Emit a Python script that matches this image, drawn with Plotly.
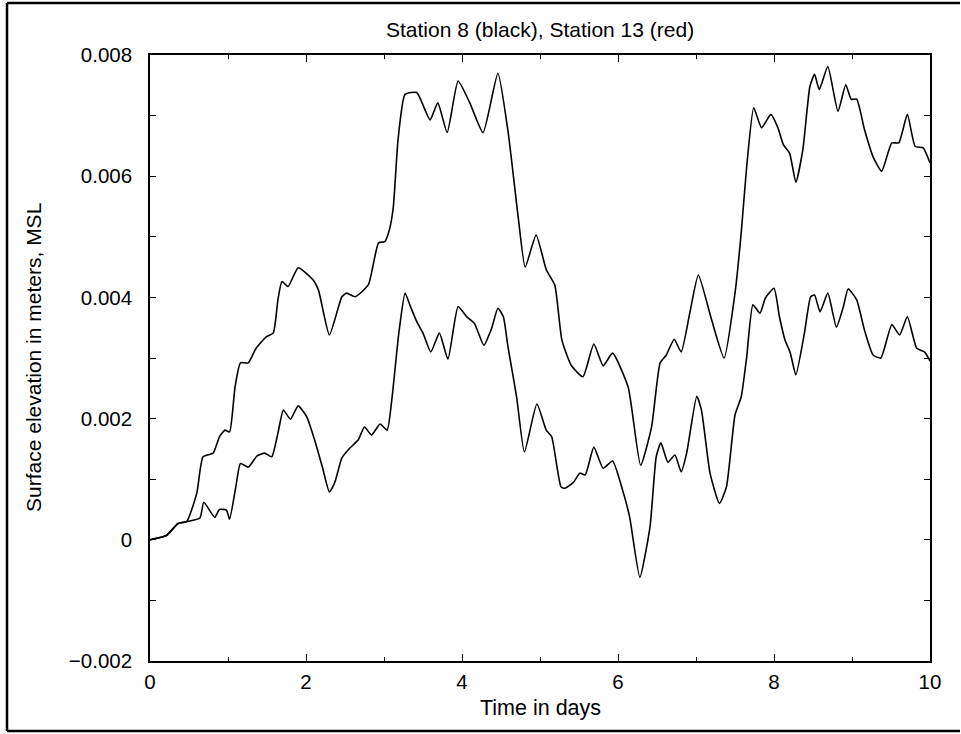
import plotly.graph_objects as go

# Time in days
t_station8 = [0, 0.21, 0.36, 0.47, 0.60, 0.68, 0.81, 0.89, 0.96, 1.02, 1.09, 1.16, 1.26, 1.36, 1.49,
              1.58, 1.64, 1.69, 1.77, 1.90, 2.09, 2.16, 2.30, 2.46, 2.52, 2.63, 2.80, 2.93, 3.01, 3.07,
              3.12, 3.18, 3.27, 3.42, 3.59, 3.69, 3.81, 3.95, 4.10, 4.27, 4.46, 4.59, 4.72, 4.81, 4.95,
              5.08, 5.19, 5.28, 5.40, 5.55, 5.69, 5.81, 5.93, 6.13, 6.29, 6.43, 6.54, 6.62, 6.72, 6.81,
              6.92, 7.03, 7.20, 7.36, 7.50, 7.58, 7.65, 7.74, 7.84, 7.96, 8.05, 8.12, 8.20, 8.28, 8.37,
              8.46, 8.52, 8.58, 8.69, 8.82, 8.92, 8.99, 9.06, 9.16, 9.27, 9.38, 9.51, 9.60, 9.71, 9.81,
              9.91, 10.0]
# Surface elevation (mm) – converted to meters below
elev_station8_mm = [0, 0.07, 0.27, 0.30, 0.77, 1.37, 1.43, 1.70, 1.81, 1.78, 2.52, 2.92, 2.92, 3.16, 3.35,
                    3.41, 3.96, 4.26, 4.18, 4.49, 4.29, 4.12, 3.38, 4.01, 4.07, 4.01, 4.21, 4.90, 4.92, 5.12,
                    5.50, 6.60, 7.35, 7.38, 6.93, 7.21, 6.72, 7.57, 7.21, 6.72, 7.70, 6.74, 5.33, 4.50, 5.03,
                    4.46, 4.20, 3.30, 2.88, 2.69, 3.23, 2.87, 3.08, 2.52, 1.23, 1.86, 2.92, 3.05, 3.31, 3.10,
                    3.74, 4.37, 3.63, 3.00, 4.07, 5.07, 6.16, 7.13, 6.80, 7.02, 6.80, 6.52, 6.38, 5.90, 6.44,
                    7.48, 7.68, 7.43, 7.81, 7.07, 7.51, 7.27, 7.27, 6.77, 6.32, 6.08, 6.55, 6.55, 7.02, 6.49,
                    6.47, 6.22]

t_station13 = [0, 0.21, 0.36, 0.47, 0.64, 0.69, 0.83, 0.89, 0.98, 1.02, 1.10, 1.16, 1.26, 1.37, 1.47,
               1.56, 1.64, 1.71, 1.80, 1.90, 2.01, 2.11, 2.21, 2.30, 2.37, 2.46, 2.56, 2.67, 2.75, 2.84,
               2.95, 3.04, 3.10, 3.19, 3.27, 3.33, 3.42, 3.50, 3.60, 3.71, 3.82, 3.95, 4.06, 4.16, 4.28,
               4.38, 4.46, 4.53, 4.59, 4.70, 4.80, 4.96, 5.08, 5.15, 5.27, 5.32, 5.43, 5.51, 5.58, 5.69,
               5.81, 5.93, 6.07, 6.15, 6.28, 6.41, 6.49, 6.55, 6.64, 6.73, 6.81, 6.88, 7.01, 7.07, 7.18,
               7.30, 7.39, 7.50, 7.58, 7.65, 7.73, 7.82, 7.89, 8.00, 8.07, 8.14, 8.21, 8.28, 8.39, 8.47,
               8.52, 8.59, 8.69, 8.80, 8.89, 8.95, 9.06, 9.16, 9.27, 9.37, 9.51, 9.61, 9.71, 9.83, 9.93,
               10.0]
elev_station13_mm = [0, 0.07, 0.27, 0.30, 0.36, 0.62, 0.37, 0.50, 0.49, 0.34, 0.87, 1.26, 1.20, 1.38, 1.43,
                     1.37, 1.76, 2.14, 1.99, 2.21, 2.03, 1.65, 1.20, 0.79, 0.95, 1.35, 1.51, 1.65, 1.86, 1.73,
                     1.91, 1.81, 2.31, 3.41, 4.07, 3.88, 3.60, 3.41, 3.10, 3.41, 2.98, 3.85, 3.68, 3.57, 3.21,
                     3.49, 3.82, 3.68, 3.18, 2.36, 1.45, 2.24, 1.81, 1.70, 0.87, 0.85, 0.95, 1.10, 1.07, 1.53,
                     1.18, 1.30, 0.77, 0.37, -0.62, 0.21, 1.37, 1.60, 1.28, 1.40, 1.12, 1.43, 2.37, 2.14, 1.10,
                     0.60, 0.87, 2.06, 2.36, 3.02, 3.88, 3.74, 3.99, 4.15, 3.68, 3.30, 3.08, 2.72, 3.41, 4.01,
                     4.04, 3.76, 4.07, 3.51, 3.85, 4.14, 3.96, 3.46, 3.05, 3.00, 3.55, 3.38, 3.68, 3.16, 3.10,
                     2.95]

x_tick_vals = [0, 2, 4, 6, 8, 10]
x_tick_text = ["0", "2", "4", "6", "8", "10"]
y_tick_vals = [-0.002, 0, 0.002, 0.004, 0.006, 0.008]
y_tick_text = ["\u22120.002", "0", "0.002", "0.004", "0.006", "0.008"]

elev_station8 = [v / 1000 for v in elev_station8_mm]
elev_station13 = [v / 1000 for v in elev_station13_mm]

FONT = "Liberation Sans, Arial, Helvetica, sans-serif"

fig = go.Figure()
fig.add_trace(go.Scatter(x=t_station8, y=elev_station8, mode="lines", name="Station 8",
                         line=dict(color="black", width=1.6, shape="spline", smoothing=0.5)))
fig.add_trace(go.Scatter(x=t_station13, y=elev_station13, mode="lines", name="Station 13",
                         line=dict(color="black", width=1.6, shape="spline", smoothing=0.5)))

axis_common = dict(showgrid=False, zeroline=False, showline=True, linecolor="black", linewidth=1.6,
                   mirror="ticks", ticks="inside", tickcolor="black", tickwidth=1.2,
                   tickfont=dict(family=FONT, size=20.5, color="black"))

fig.update_xaxes(range=[0, 10], tickvals=x_tick_vals, ticktext=x_tick_text, ticklen=7,
                 ticklabelstandoff=2,
                 minor=dict(dtick=1, ticks="inside", ticklen=4, tickcolor="black", tickwidth=1.2),
                 **axis_common)
fig.update_yaxes(range=[-0.002, 0.008], tickvals=y_tick_vals, ticktext=y_tick_text, ticklen=6,
                 ticklabelstandoff=12,
                 minor=dict(dtick=0.001, ticks="inside", ticklen=6, tickcolor="black", tickwidth=1.2),
                 **axis_common)

fig.update_layout(
    width=961, height=734,
    margin=dict(l=150, r=31, t=55, b=73, pad=0),
    plot_bgcolor="white", paper_bgcolor="white",
    showlegend=False,
    font=dict(family=FONT, color="black"),
    annotations=[
        dict(text="Station 8 (black), Station 13 (red)", xref="paper", yref="paper",
             x=0.5, y=(661 - 30) / 606, xanchor="center", yanchor="middle",
             showarrow=False, font=dict(family=FONT, size=21, color="black")),
        dict(text="Time in days", xref="paper", yref="paper",
             x=0.5, y=(661 - 708) / 606, xanchor="center", yanchor="middle",
             showarrow=False, font=dict(family=FONT, size=21.5, color="black")),
        dict(text="Surface elevation in meters, MSL", xref="paper", yref="paper",
             x=(33 - 150) / 780, y=(661 - 358) / 606, xanchor="center", yanchor="middle",
             textangle=-90, showarrow=False, font=dict(family=FONT, size=21, color="black")),
    ],
    shapes=[
        # outer frame: left, top, bottom
        dict(type="line", xref="paper", yref="paper", x0=(7 - 150) / 780, x1=(7 - 150) / 780,
             y0=(661 - 3) / 606, y1=(661 - 731) / 606, line=dict(color="black", width=2.5)),
        dict(type="line", xref="paper", yref="paper", x0=(7 - 150) / 780, x1=(960 - 150) / 780,
             y0=(661 - 3) / 606, y1=(661 - 3) / 606, line=dict(color="black", width=2.5)),
        dict(type="line", xref="paper", yref="paper", x0=(7 - 150) / 780, x1=(960 - 150) / 780,
             y0=(661 - 731) / 606, y1=(661 - 731) / 606, line=dict(color="black", width=2.5)),
    ],
)

fig.write_html("out.html")
